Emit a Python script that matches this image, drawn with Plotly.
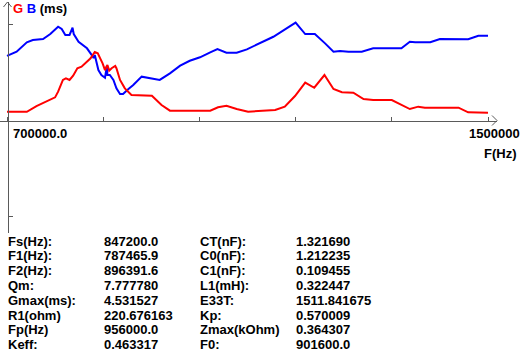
import plotly.graph_objects as go

# ---------------- data ----------------
freq_b_hz = [700000, 716000, 733000, 743000, 760000, 772000, 785000, 791000, 797000, 804000,
             809000, 811000, 819000, 833000, 841000, 844000, 846000, 848000, 852000, 857000,
             863000, 865000, 866000, 867000, 871000, 877000, 882000, 888000, 893000, 902000,
             910000, 924000, 938000, 954000, 971000, 988000, 1004000, 1021000, 1038000, 1050000,
             1065000, 1082000, 1099000, 1121000, 1143000, 1165000, 1180000, 1196000, 1212000, 1229000,
             1243000, 1254000, 1268000, 1290000, 1309000, 1356000, 1370000, 1379000, 1404000, 1420000,
             1437000, 1467000, 1484000, 1500000]
b_ms = [4.27, 4.55, 5.18, 5.33, 5.40, 5.73, 6.22, 6.07, 5.67, 5.67,
        6.15, 5.73, 5.22, 4.78, 4.33, 4.13, 4.33, 4.00, 3.33, 3.00,
        2.82, 3.33, 3.60, 3.00, 3.00, 2.67, 2.11, 1.73, 1.73, 2.07,
        2.33, 2.89, 2.78, 2.67, 3.11, 3.62, 3.95, 4.18, 4.51, 4.73,
        4.49, 4.49, 4.71, 5.11, 5.55, 6.11, 6.49, 5.73, 5.73, 5.11,
        4.55, 4.60, 4.55, 4.55, 4.78, 4.78, 5.22, 5.18, 5.18, 5.40,
        5.38, 5.38, 5.62, 5.62]

freq_g_hz = [700000, 733000, 749000, 766000, 780000, 785000, 793000, 798000, 804000, 810000,
             817000, 824000, 833000, 839000, 846000, 851000, 855000, 859000, 863000, 867000,
             870000, 874000, 880000, 882000, 888000, 896000, 907000, 941000, 957000, 971000,
             1038000, 1051000, 1065000, 1082000, 1101000, 1146000, 1162000, 1179000, 1196000, 1211000,
             1228000, 1243000, 1257000, 1276000, 1293000, 1309000, 1340000, 1370000, 1384000, 1395000,
             1451000, 1467000, 1500000]
g_ms = [0.55, 0.55, 0.93, 1.22, 1.51, 1.89, 2.67, 2.78, 2.67, 2.95,
        3.45, 3.55, 3.93, 4.11, 4.53, 4.45, 4.11, 3.78, 3.33, 3.67,
        3.29, 3.45, 3.60, 3.45, 2.67, 2.11, 1.67, 1.62, 1.00, 0.62,
        0.62, 0.85, 0.95, 0.73, 0.55, 0.67, 0.89, 1.60, 2.49, 2.15,
        3.00, 2.07, 1.85, 1.82, 1.40, 1.33, 1.33, 0.73, 0.89, 0.82,
        0.82, 0.51, 0.49]

x_tick_vals = [700000, 860000, 1020000, 1180000, 1340000, 1500000]
y_tick_vals = [6.4, -6.4]
x_label_min = "700000.0"
x_label_max = "1500000"
x_title = "F(Hz)"

param_names_1 = ["Fs(Hz):", "F1(Hz):", "F2(Hz):", "Qm:", "Gmax(ms):", "R1(ohm)", "Fp(Hz)", "Keff:"]
param_values_1 = ["847200.0", "787465.9", "896391.6", "7.777780", "4.531527", "220.676163",
                  "956000.0", "0.463317"]
param_names_2 = ["CT(nF):", "C0(nF):", "C1(nF):", "L1(mH):", "E33T:", "Kp:", "Zmax(kOhm)", "F0:"]
param_values_2 = ["1.321690", "1.212235", "0.109455", "0.322447", "1511.841675", "0.570009",
                  "0.364307", "901600.0"]

# ---------------- layout helpers ----------------
W, H = 523, 356


def pxx(x):
    return x / W


def pxy(y):
    return 1 - y / H


hz_per_px = (x_tick_vals[-1] - x_tick_vals[0]) / (488 - 7)
x_range = [x_tick_vals[0] - 7 * hz_per_px, x_tick_vals[0] + (497 - 7) * hz_per_px]
ms_per_px = 1 / 15.0

AXIS_COLOR = "#5a5a5a"
FONT = dict(family="Liberation Sans, Arial, sans-serif", size=13, color="black", weight="bold")

fig = go.Figure()
fig.add_trace(go.Scatter(x=freq_b_hz, y=b_ms, mode="lines",
                         line=dict(color="#0000ff", width=2), hoverinfo="skip", showlegend=False))
fig.add_trace(go.Scatter(x=freq_g_hz, y=g_ms, mode="lines",
                         line=dict(color="#ff0000", width=2), hoverinfo="skip", showlegend=False))

annotations = []


def txt(text, x, y, xanchor="left", color="black"):
    f = dict(FONT)
    f["color"] = color
    annotations.append(dict(text=text, x=pxx(x), y=pxy(y), xref="paper", yref="paper",
                            xanchor=xanchor, yanchor="middle", showarrow=False, font=f))


txt('<span style="color:#ff0000">G</span> <span style="color:#0000ff">B</span> (ms)', 11, 8)
txt(x_label_min, 11, 134)
txt(x_label_max, 522, 134, xanchor="right")
txt(x_title, 519, 153, xanchor="right")

row0, row_step = 241, 14.8
for i in range(len(param_names_1)):
    yy = row0 + i * row_step
    txt(param_names_1[i], 6, yy)
    txt(param_values_1[i], 102, yy)
    txt(param_names_2[i], 198, yy)
    txt(param_values_2[i], 294, yy)

shapes = [
    # y-axis arrow head
    dict(type="path", xref="paper", yref="paper",
         path=f"M {pxx(3.5)},{pxy(7)} L {pxx(7.5)},{pxy(2)} L {pxx(11.5)},{pxy(7)}",
         line=dict(color=AXIS_COLOR, width=1)),
    # x-axis arrow head
    dict(type="path", xref="paper", yref="paper",
         path=f"M {pxx(492)},{pxy(115.5)} L {pxx(497)},{pxy(120.5)} L {pxx(492)},{pxy(125.5)}",
         line=dict(color=AXIS_COLOR, width=1)),
]

fig.update_layout(
    width=W, height=H,
    margin=dict(l=0, r=0, t=0, b=0),
    paper_bgcolor="white", plot_bgcolor="white",
    showlegend=False,
    xaxis=dict(domain=[0, 497 / W], range=x_range, anchor="free", position=pxy(120.5),
               showline=True, linecolor=AXIS_COLOR, linewidth=1,
               ticks="inside", ticklen=4, tickcolor=AXIS_COLOR, tickvals=x_tick_vals,
               showticklabels=False, showgrid=False, zeroline=False, fixedrange=True),
    yaxis=dict(domain=[pxy(233), pxy(2)], range=[(120 - 233) * ms_per_px, (120 - 2) * ms_per_px],
               anchor="free", position=pxx(7.5),
               showline=True, linecolor=AXIS_COLOR, linewidth=1,
               ticks="inside", ticklen=4, tickcolor=AXIS_COLOR, tickvals=y_tick_vals,
               showticklabels=False, showgrid=False, zeroline=False, fixedrange=True),
    annotations=annotations,
    shapes=shapes,
)

fig.write_html(
    "out.html",
    config={"displayModeBar": False},
    post_script="document.body.style.margin='0';document.body.style.padding='0';"
                "document.documentElement.style.overflow='hidden';",
)
